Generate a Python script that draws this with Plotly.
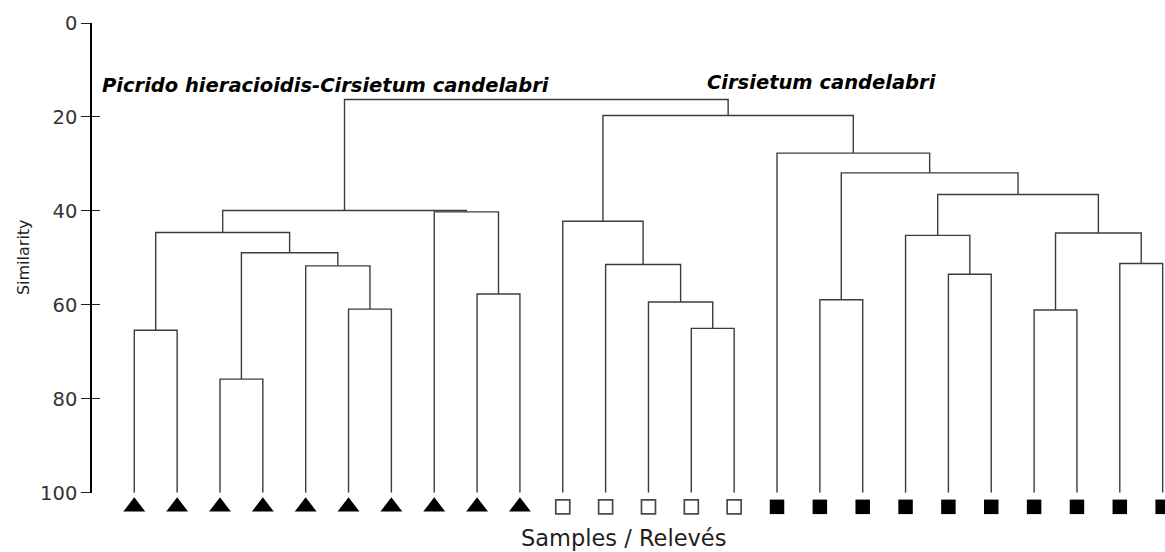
import plotly.graph_objects as go

# ---------------- data ----------------
# sample groups in leaf order (left to right)
leaf_groups = ["triangle"] * 10 + ["open square"] * 5 + ["filled square"] * 10

# agglomeration steps: nodes 0..24 are samples, node 25+k is created by step k
merge_left = [0, 2, 5, 4, 26, 25, 8, 7, 30, 13, 12, 11, 10,
              16, 19, 21, 23, 18, 40, 42, 38, 15, 37, 33]
merge_right = [1, 3, 6, 27, 28, 29, 9, 31, 32, 14, 34, 35, 36,
               17, 20, 22, 24, 39, 41, 43, 44, 45, 46, 47]
merge_similarity = [65.4, 75.8, 60.9, 51.7, 48.9, 44.6, 57.7, 40.2, 39.9,
                    65.0, 59.4, 51.4, 42.2, 58.9, 53.5, 61.1, 51.2, 45.2,
                    44.7, 36.5, 31.9, 27.7, 19.7, 16.3]

y_ticks = [0, 20, 40, 60, 80, 100]
group_names = ["Picrido hieracioidis-Cirsietum candelabri", "Cirsietum candelabri"]
x_title = "Samples / Relevés"
y_title = "Similarity"

# ---------------- build dendrogram geometry ----------------
n_leaves = len(leaf_groups)
node_x = [i + 1 for i in range(n_leaves)]
node_y = [100.0] * n_leaves
lx, ly = [], []
for a, b, h in zip(merge_left, merge_right, merge_similarity):
    lx += [node_x[a], node_x[a], node_x[b], node_x[b], None]
    ly += [node_y[a], h, h, node_y[b], None]
    node_x.append((node_x[a] + node_x[b]) / 2)
    node_y.append(h)

# ---------------- layout geometry ----------------
W, H = 1165, 552
TOP = 22.5          # pixel of similarity 0
BOTTOM = 492.7      # pixel of similarity 100
PX_PER_UNIT = (BOTTOM - TOP) / 100.0
plot_h = H - TOP
main_bottom = (H - BOTTOM) / plot_h          # domain split
strip_max = 100 + (H - BOTTOM) / PX_PER_UNIT  # similarity value at page bottom

LINE = "#3c3c3c"
fig = go.Figure()
fig.add_trace(go.Scatter(x=lx, y=ly, mode="lines", yaxis="y2",
                         line=dict(color=LINE, width=1.4),
                         hoverinfo="skip", showlegend=False))

MARKER_Y = 103
styles = {
    "triangle": dict(symbol="triangle-up", size=19, color="black",
                     line=dict(width=0)),
    "open square": dict(symbol="square", size=14, color="white",
                        line=dict(width=1.7, color="#4a4a4a")),
    "filled square": dict(symbol="square", size=14.5, color="black",
                          line=dict(width=0)),
}
for g, st in styles.items():
    xs = [i + 1 for i, lg in enumerate(leaf_groups) if lg == g]
    fig.add_trace(go.Scatter(x=xs, y=[MARKER_Y] * len(xs), mode="markers",
                             yaxis="y3", marker=st, cliponaxis=False, name=g,
                             showlegend=False, hoverinfo="skip"))

ANN_FONT = dict(family="DejaVu Sans", size=19.5, color="black",
                weight="bold", style="italic")
fig.add_annotation(x=0.19, y=13.2, xref="x", yref="y", text=group_names[0],
                   showarrow=False, xanchor="left", yanchor="middle",
                   font=ANN_FONT)
fig.add_annotation(x=14.31, y=12.7, xref="x", yref="y", text=group_names[1],
                   showarrow=False, xanchor="left", yanchor="middle",
                   font=ANN_FONT)
fig.add_annotation(x=0.495, y=(H - 538) / plot_h, xref="paper", yref="paper",
                   text=x_title, showarrow=False, xanchor="center",
                   yanchor="middle",
                   font=dict(family="DejaVu Sans", size=22.5, color="#1e1e1e"))
fig.add_annotation(x=-0.0645, y=(H - 257) / plot_h, xref="paper", yref="paper",
                   text=y_title, showarrow=False, textangle=-90,
                   xanchor="center", yanchor="middle",
                   font=dict(family="DejaVu Sans", size=16, color="#1e1e1e"))

fig.update_layout(
    template="none",
    width=W, height=H,
    margin=dict(l=91.7, r=0, t=TOP, b=0, pad=0, autoexpand=False),
    paper_bgcolor="white", plot_bgcolor="white",
    xaxis=dict(visible=False, range=[0.013, 25.055], anchor="y",
               automargin=False),
    yaxis=dict(domain=[main_bottom, 1], range=[100, 0], tickvals=y_ticks,
               ticks="outside", ticklen=9, tickwidth=1.3, tickcolor="#222",
               showline=True, linecolor="black", linewidth=1.5,
               showgrid=False, zeroline=False, anchor="x", automargin=False,
               tickfont=dict(family="DejaVu Sans", size=19.5, color="#333")),
    yaxis2=dict(range=[100, 0], tickvals=y_ticks, ticks="inside", ticklen=8,
                tickwidth=1.3, tickcolor="#222", overlaying="y", anchor="x",
                side="left", showticklabels=False, showline=False,
                showgrid=False, zeroline=False, automargin=False),
    yaxis3=dict(domain=[0, main_bottom], range=[strip_max, 100], visible=False,
                anchor="x", automargin=False),
)

fig.write_html("out.html", config={"displayModeBar": False},
               post_script="document.body.style.margin='0';")
